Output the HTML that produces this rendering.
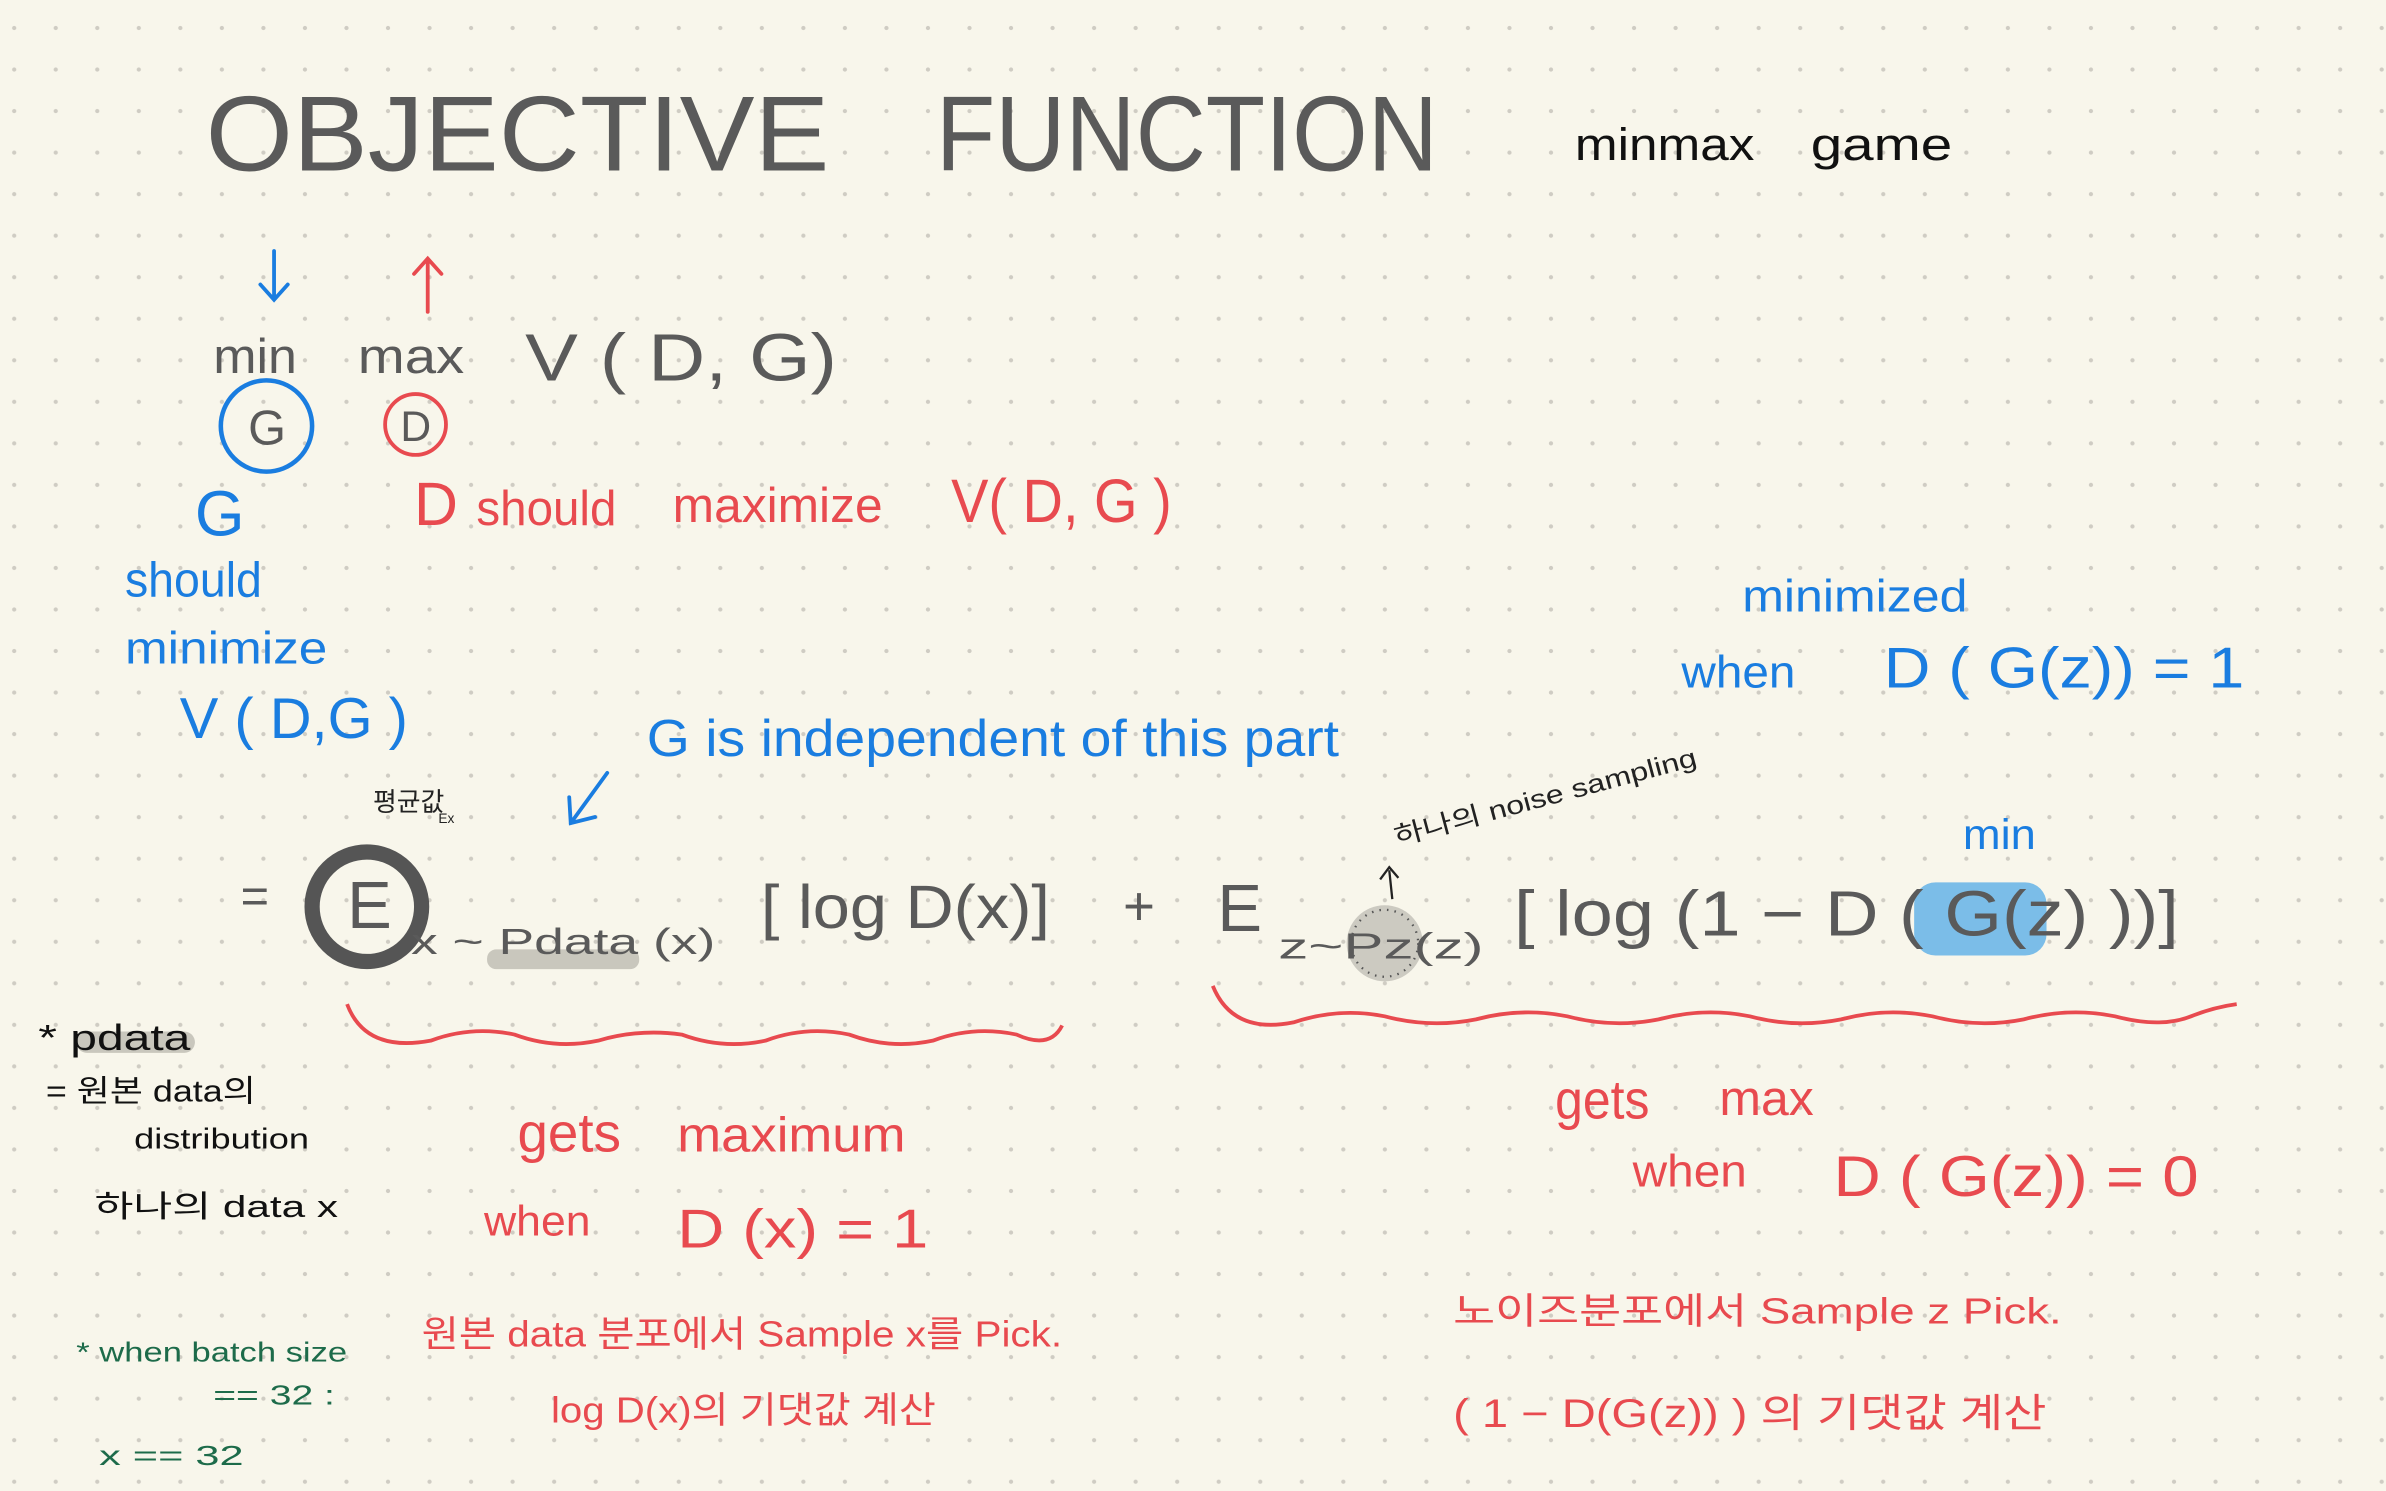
<!DOCTYPE html>
<html><head><meta charset="utf-8"><style>
html,body{margin:0;padding:0;background:#f8f6eb;}
svg{display:block;}
text{font-family:"Liberation Sans","Noto Sans CJK KR",sans-serif;}
</style></head><body>
<svg width="2386" height="1491" viewBox="0 0 1568 980" xmlns="http://www.w3.org/2000/svg">
<defs>
<pattern id="d" x="9.2" y="18.4" width="27.3" height="27.3" patternUnits="userSpaceOnUse">
<circle cx="0" cy="0" r="1.4" fill="#cfccc3"/><circle cx="27.3" cy="0" r="1.4" fill="#cfccc3"/><circle cx="0" cy="27.3" r="1.4" fill="#cfccc3"/><circle cx="27.3" cy="27.3" r="1.4" fill="#cfccc3"/>
</pattern>
</defs>
<rect width="1568" height="980" fill="#f8f6eb"/>
<rect width="1568" height="980" fill="url(#d)"/>

<g fill="#5a5a5a">
<text x="135" y="112" font-size="70" textLength="410" lengthAdjust="spacingAndGlyphs">OBJECTIVE</text>
<text x="615" y="112" font-size="70" textLength="330" lengthAdjust="spacingAndGlyphs">FUNCTION</text>
</g>
<text x="1035" y="105" font-size="30" fill="#111" textLength="118" lengthAdjust="spacingAndGlyphs">minmax</text>
<text x="1190" y="105" font-size="30" fill="#111" textLength="93" lengthAdjust="spacingAndGlyphs">game</text>

<g stroke="#1a7de0" stroke-width="2.5" fill="none" stroke-linecap="round"><path d="M180 165 L180 197 M171 187 L180 197 L189 187"/></g>
<g stroke="#e84a4f" stroke-width="2.5" fill="none" stroke-linecap="round"><path d="M281 205 L281 170 M272 180 L281 170 L290 180"/></g>

<g fill="#5a5a5a">
<text x="140" y="245" font-size="32" textLength="55" lengthAdjust="spacingAndGlyphs">min</text>
<text x="235" y="245" font-size="32" textLength="70" lengthAdjust="spacingAndGlyphs">max</text>
<text x="345" y="250" font-size="44" textLength="205" lengthAdjust="spacingAndGlyphs">V ( D, G)</text>
</g>
<circle cx="175" cy="280" r="30" fill="none" stroke="#1a7de0" stroke-width="3"/>
<text x="163" y="292" font-size="32" fill="#5a5a5a">G</text>
<circle cx="273" cy="279" r="20" fill="none" stroke="#e84a4f" stroke-width="2.5"/>
<text x="263" y="290" font-size="28" fill="#5a5a5a">D</text>

<g fill="#1a7de0">
<text x="128" y="352" font-size="42">G</text>
<text x="82" y="392" font-size="32" textLength="90" lengthAdjust="spacingAndGlyphs">should</text>
<text x="82" y="436" font-size="30" textLength="133" lengthAdjust="spacingAndGlyphs">minimize</text>
<text x="118" y="485" font-size="38" textLength="150" lengthAdjust="spacingAndGlyphs">V ( D,G )</text>
</g>

<g fill="#e84a4f">
<text x="272" y="345" font-size="40">D</text>
<text x="313" y="345" font-size="32" textLength="92" lengthAdjust="spacingAndGlyphs">should</text>
<text x="442" y="343" font-size="32" textLength="138" lengthAdjust="spacingAndGlyphs">maximize</text>
<text x="625" y="343" font-size="40" textLength="145" lengthAdjust="spacingAndGlyphs">V( D, G )</text>
</g>

<text x="425" y="497" font-size="34" fill="#1a7de0" textLength="455" lengthAdjust="spacingAndGlyphs">G  is  independent  of  this part</text>
<g stroke="#1a7de0" stroke-width="2.5" fill="none" stroke-linecap="round"><path d="M399 508 L375 541 M374 524 L375 541 L391 537"/></g>

<text x="245" y="533" font-size="17" fill="#222">평균값</text>
<text x="288" y="541" font-size="9" fill="#222">Ex</text>

<text x="158" y="600" font-size="32" fill="#5a5a5a">=</text>
<rect x="320" y="624" width="100" height="13" rx="6" fill="#c9c7bd"/>
<circle cx="241" cy="596" r="36" fill="none" stroke="#555" stroke-width="10"/>
<text x="228" y="610" font-size="44" fill="#5a5a5a">E</text>
<text x="270" y="627" font-size="24" fill="#5a5a5a" textLength="200" lengthAdjust="spacingAndGlyphs">x ~ Pdata (x)</text>
<text x="500" y="610" font-size="40" fill="#5a5a5a" textLength="190" lengthAdjust="spacingAndGlyphs">[ log D(x)]</text>
<text x="738" y="608" font-size="36" fill="#5a5a5a">+</text>
<text x="800" y="612" font-size="44" fill="#5a5a5a">E</text>
<circle cx="910" cy="620" r="25" fill="#c4c2ba" opacity="0.85"/>
<circle cx="910" cy="620" r="22" fill="none" stroke="#555" stroke-width="1.5" stroke-dasharray="1 4"/>
<text x="840" y="630" font-size="24" fill="#5a5a5a" textLength="135" lengthAdjust="spacingAndGlyphs">z~Pz(z)</text>
<rect x="1258" y="580" width="87" height="48" rx="14" fill="#7bbde8"/>
<text x="995" y="615" font-size="42" fill="#5a5a5a" textLength="437" lengthAdjust="spacingAndGlyphs">[ log (1 − D ( G(z) ))]</text>
<path d="M915 591 L913 572 M907 578 L913 570 L919 577" stroke="#222" stroke-width="1.5" fill="none"/>
<text x="918" y="556" font-size="17" fill="#222" transform="rotate(-15 918 556)" textLength="205" lengthAdjust="spacingAndGlyphs">하나의 noise  sampling</text>
<text x="1290" y="558" font-size="28" fill="#1a7de0" textLength="48" lengthAdjust="spacingAndGlyphs">min</text>

<g fill="#1a7de0">
<text x="1145" y="402" font-size="30" textLength="148" lengthAdjust="spacingAndGlyphs">minimized</text>
<text x="1105" y="452" font-size="30" textLength="75" lengthAdjust="spacingAndGlyphs">when</text>
<text x="1238" y="452" font-size="38" textLength="237" lengthAdjust="spacingAndGlyphs">D ( G(z)) = 1</text>
</g>

<path d="M228 660 Q240 692 283 684 Q310 674 338 680 Q365 690 393 684 Q420 676 448 680 Q475 690 503 684 Q530 674 558 680 Q585 690 613 684 Q640 674 668 680 Q690 690 698 674" fill="none" stroke="#e84a4f" stroke-width="2.5"/>
<path d="M797 648 Q810 680 850 672 Q880 662 910 668 Q940 676 970 670 Q1000 662 1030 668 Q1060 676 1090 670 Q1120 662 1150 668 Q1180 676 1210 670 Q1240 662 1270 668 Q1300 676 1330 670 Q1360 662 1390 668 Q1420 676 1440 668 Q1455 662 1470 660" fill="none" stroke="#e84a4f" stroke-width="2.5"/>

<rect x="50" y="678" width="78" height="14" rx="7" fill="#c9c7bd"/>
<g fill="#111">
<text x="25" y="690" font-size="24" textLength="100" lengthAdjust="spacingAndGlyphs">* pdata</text>
<text x="30" y="724" font-size="20" textLength="138" lengthAdjust="spacingAndGlyphs">= 원본 data의</text>
<text x="88" y="755" font-size="19" textLength="115" lengthAdjust="spacingAndGlyphs">distribution</text>
<text x="62" y="800" font-size="20" textLength="160" lengthAdjust="spacingAndGlyphs">하나의 data  x</text>
</g>

<g fill="#e84a4f">
<text x="340" y="757" font-size="36" textLength="68" lengthAdjust="spacingAndGlyphs">gets</text>
<text x="445" y="757" font-size="32" textLength="150" lengthAdjust="spacingAndGlyphs">maximum</text>
<text x="318" y="812" font-size="28" textLength="70" lengthAdjust="spacingAndGlyphs">when</text>
<text x="445" y="820" font-size="36" textLength="165" lengthAdjust="spacingAndGlyphs">D (x) =  1</text>
<text x="1022" y="735" font-size="36" textLength="62" lengthAdjust="spacingAndGlyphs">gets</text>
<text x="1130" y="733" font-size="32" textLength="62" lengthAdjust="spacingAndGlyphs">max</text>
<text x="1073" y="780" font-size="30" textLength="75" lengthAdjust="spacingAndGlyphs">when</text>
<text x="1205" y="786" font-size="38" textLength="240" lengthAdjust="spacingAndGlyphs">D ( G(z)) = 0</text>
<text x="277" y="885" font-size="24" textLength="421" lengthAdjust="spacingAndGlyphs">원본 data 분포에서  Sample  x를  Pick.</text>
<text x="362" y="935" font-size="24" textLength="253" lengthAdjust="spacingAndGlyphs">log D(x)의  기댓값 계산</text>
<text x="955" y="870" font-size="24" textLength="400" lengthAdjust="spacingAndGlyphs">노이즈분포에서  Sample  z  Pick.</text>
<text x="955" y="938" font-size="26" textLength="390" lengthAdjust="spacingAndGlyphs">( 1 − D(G(z)) )  의  기댓값 계산</text>
</g>

<g fill="#1d6b4a">
<text x="50" y="895" font-size="18" textLength="178" lengthAdjust="spacingAndGlyphs">*  when   batch size</text>
<text x="140" y="923" font-size="18" textLength="80" lengthAdjust="spacingAndGlyphs">== 32 :</text>
<text x="65" y="963" font-size="18" textLength="95" lengthAdjust="spacingAndGlyphs">x == 32</text>
</g>
</svg>
</body></html>
